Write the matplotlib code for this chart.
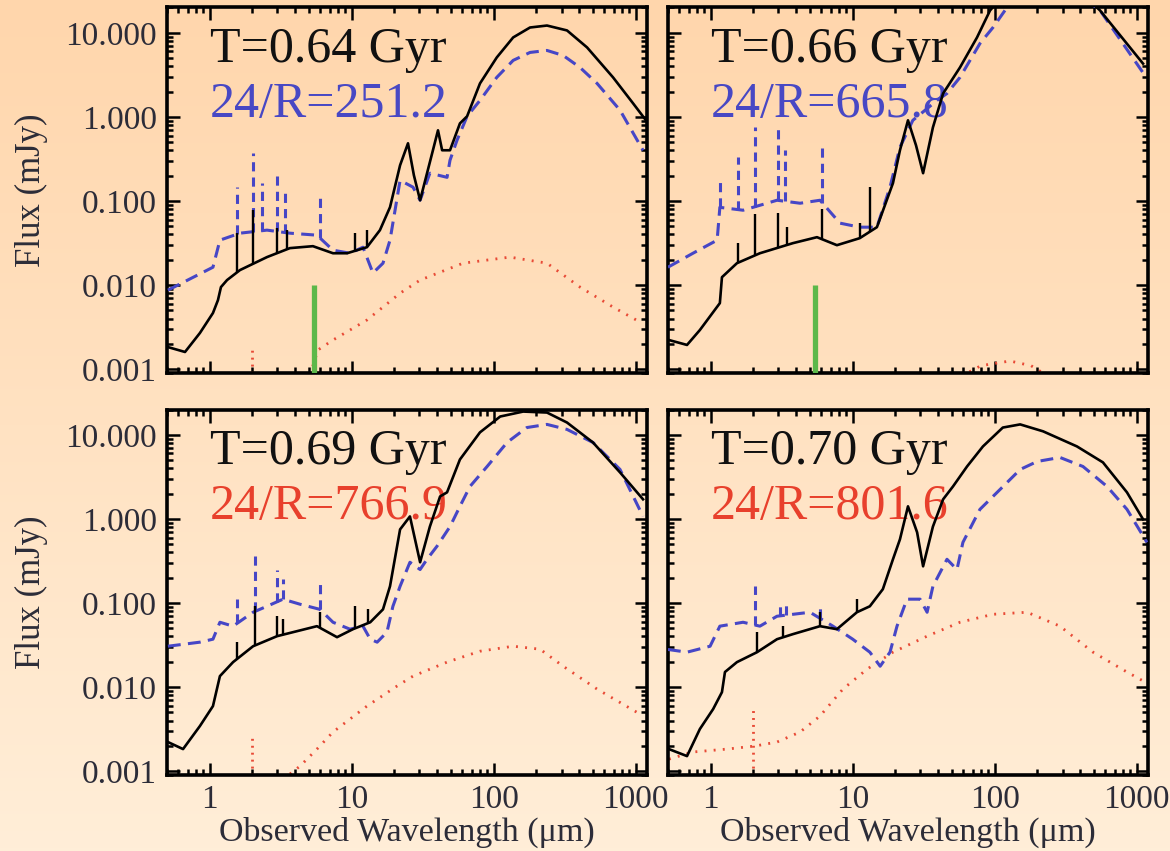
import numpy as np
import matplotlib.pyplot as plt
from matplotlib.ticker import FixedLocator, LogLocator, NullFormatter, FuncFormatter

plt.rcParams['font.family'] = ['Liberation Serif', 'DejaVu Serif']

# ---- T = 0.64 Gyr -------------------------------------------------------
solid_wl_064 = [0.508, 0.67, 0.853, 1.054, 1.143, 1.2, 1.324, 1.633, 2.53, 3.67, 5.33, 7.38,
                9.27, 12.8, 15.8, 18.6, 21.9, 24.9, 27.4, 30.3, 37.3, 40.5, 43.3, 49.2, 57.8,
                64.9, 80, 105, 137, 180, 237, 328, 454, 692, 957, 1180]
solid_fx_064 = [0.00183, 0.0016, 0.00269, 0.00465, 0.00662, 0.00946, 0.01146, 0.01507, 0.0215,
                0.0275, 0.029, 0.0239, 0.0239, 0.0282, 0.045, 0.0843, 0.266, 0.485, 0.202,
                0.102, 0.401, 0.692, 0.401, 0.401, 0.837, 1.016, 2.5, 5.09, 8.81, 11.56, 12.2,
                10.67, 6.7, 2.95, 1.45, 0.91]
solid_lines_wl_064 = [1.56, 2.02, 2.98, 3.50, 10.5, 12.8]
solid_lines_fx_064 = [0.0414, 0.0776, 0.0475, 0.045, 0.0414, 0.045]
dashed_wl_064 = [0.508, 1.054, 1.18, 1.633, 2.53, 3.67, 5.69, 7.38, 9.72, 12.0, 14.1, 16.6,
                 18.6, 21.9, 27.0, 30.3, 35.5, 46.9, 49.2, 55.1, 64.9, 80, 105, 137, 180, 237,
                 308, 405, 534, 775, 1125]
dashed_fx_064 = [0.0087, 0.0163, 0.0342, 0.0414, 0.045, 0.0414, 0.0392, 0.026, 0.0239, 0.0282,
                 0.0139, 0.0182, 0.0342, 0.176, 0.146, 0.102, 0.214, 0.191, 0.305, 0.526, 1.016,
                 1.57, 2.95, 4.7, 5.84, 6.17, 5.38, 3.87, 2.5, 1.2, 0.40]
dashed_lines_wl_064 = [1.56, 2.02, 2.33, 2.98, 3.39, 5.97]
dashed_lines_fx_064 = [0.146, 0.37, 0.163, 0.214, 0.124, 0.117]
dotted_wl_064 = [5.08, 5.78, 7.38, 12.8, 21.9, 30.3, 60.8, 130, 237, 405, 692, 1071]
dotted_fx_064 = [0.00085, 0.00169, 0.00222, 0.00384, 0.0080, 0.01146, 0.0182, 0.0215, 0.0182,
                 0.00946, 0.00547, 0.00363]
dotted_lines_wl_064 = [2.0]
dotted_lines_fx_064 = [0.0019]

# ---- T = 0.66 Gyr -------------------------------------------------------
solid_wl_066 = [0.508, 0.681, 0.839, 1.16, 1.2, 1.53, 2.22, 3.79, 5.6, 7.74, 11.2, 14.8, 19.2,
                21.5, 24.5, 27.9, 31.3, 36.7, 43.3, 56.9, 75, 92.6, 130, 180, 237, 330, 552, 1107]
solid_fx_066 = [0.00222, 0.00194, 0.00292, 0.0061, 0.0124, 0.0182, 0.0239, 0.0315, 0.0371,
                0.0298, 0.0361, 0.0488, 0.163, 0.40, 0.91, 0.459, 0.214, 0.75, 1.9, 3.87, 8.8,
                18.4, 36, 46, 50, 42, 18.4, 4.3]
solid_lines_wl_066 = [1.56, 2.05, 2.98, 3.44, 6.08, 11.2, 13.2]
solid_lines_fx_066 = [0.0315, 0.07, 0.0714, 0.0488, 0.08, 0.0545, 0.146]
dashed_wl_066 = [0.5, 0.75, 1.11, 1.16, 1.69, 2.93, 4.26, 5.88, 8.13, 11.2, 14.8, 18.3, 21.5,
                 26.5, 39.2, 46.1, 56.9, 78.7, 97.3, 122, 200, 330, 552, 1143]
dashed_fx_066 = [0.0163, 0.0239, 0.0342, 0.084, 0.0776, 0.102, 0.094, 0.102, 0.0545, 0.0488,
                 0.0488, 0.146, 0.435, 0.91, 1.57, 1.9, 2.95, 7.47, 11.6, 20, 38, 36, 18.4, 3.1]
dashed_lines_wl_066 = [1.16, 1.56, 2.05, 2.98, 3.33, 6.08]
dashed_lines_fx_066 = [0.167, 0.33, 0.75, 0.75, 0.40, 0.435]
dotted_wl_066 = [50, 64, 80, 128, 180, 219, 260]
dotted_fx_066 = [0.0008, 0.0009, 0.0011, 0.00125, 0.0011, 0.0009, 0.0007]
dotted_lines_wl_066 = []
dotted_lines_fx_066 = []

# ---- T = 0.69 Gyr -------------------------------------------------------
solid_wl_069 = [0.508, 0.649, 0.853, 1.054, 1.18, 1.46, 2.02, 2.98, 5.69, 7.88, 10.2, 13.5,
                16.6, 18.6, 21.9, 25.7, 30.3, 35.5, 41.9, 46.9, 57.8, 80, 111, 161, 237, 328,
                500, 775, 1125]
solid_fx_069 = [0.00222, 0.00183, 0.00344, 0.00594, 0.0135, 0.0198, 0.0306, 0.0403, 0.053,
                0.0392, 0.0488, 0.059, 0.084, 0.158, 0.75, 1.07, 0.305, 0.81, 1.85, 2.07, 5.09,
                10.7, 16.5, 18.9, 18.4, 14.0, 8.1, 3.57, 1.71]
solid_lines_wl_069 = [1.56, 2.08, 2.98, 3.28, 5.97, 10.5, 13.0]
solid_lines_fx_069 = [0.0342, 0.0914, 0.0696, 0.064, 0.0776, 0.0914, 0.084]
dashed_wl_069 = [0.508, 0.853, 1.054, 1.18, 1.46, 2.02, 2.53, 3.28, 4.33, 5.97, 7.38, 9.72,
                 12.0, 13.5, 15.1, 17.7, 19.5, 21.9, 25.7, 30.3, 33.9, 39.8, 49.2, 57.8, 68,
                 89.8, 124, 171, 237, 328, 500, 775, 1125]
dashed_fx_069 = [0.0306, 0.0342, 0.0371, 0.059, 0.053, 0.0776, 0.0914, 0.111, 0.0966, 0.084,
                 0.059, 0.0488, 0.053, 0.0371, 0.0342, 0.045, 0.0914, 0.158, 0.305, 0.25,
                 0.331, 0.472, 0.81, 1.41, 2.43, 4.2, 8.1, 12.2, 13.3, 11.6, 8.1, 3.87, 1.07]
dashed_lines_wl_069 = [1.56, 2.08, 2.98, 3.28, 5.97]
dashed_lines_fx_069 = [0.111, 0.40, 0.25, 0.191, 0.176]
dotted_wl_069 = [3.67, 4.33, 5.69, 7.38, 12.8, 20.8, 27.0, 46.9, 80, 137, 212, 308, 534, 1071]
dotted_fx_069 = [0.000925, 0.00115, 0.00183, 0.00292, 0.00594, 0.01026, 0.0135, 0.0198,
                 0.0267, 0.0306, 0.0282, 0.0177, 0.00946, 0.00477]
dotted_lines_wl_069 = [2.0]
dotted_lines_fx_069 = [0.00261]

# ---- T = 0.70 Gyr -------------------------------------------------------
solid_wl_070 = [0.508, 0.681, 0.839, 1.04, 1.2, 1.26, 1.53, 2.12, 2.93, 3.79, 5.88, 7.74,
                10.7, 13.2, 16.3, 19.2, 21.5, 24.5, 28.4, 31.3, 36.7, 43.3, 50.8, 63.8, 82.6,
                114, 151, 219, 379, 578, 853, 1107]
solid_fx_070 = [0.00183, 0.00151, 0.00317, 0.00547, 0.0087, 0.0151, 0.0198, 0.026, 0.0371,
                0.0426, 0.053, 0.0488, 0.0776, 0.0914, 0.146, 0.331, 0.571, 1.41, 0.692, 0.273,
                0.81, 1.71, 2.43, 4.2, 7.28, 12.2, 13.3, 11.0, 7.28, 4.7, 2.07, 0.99]
solid_lines_wl_070 = [2.12, 3.23, 5.88, 10.7]
solid_lines_fx_070 = [0.045, 0.053, 0.0776, 0.111]
dashed_wl_070 = [0.5, 0.681, 0.99, 1.16, 1.69, 2.22, 2.93, 5.0, 7.26, 10.0, 13.2, 15.6, 18.3,
                 20.5, 24.1, 29.8, 33.4, 36.7, 46.1, 54.2, 59.7, 78.7, 109, 151, 199, 288, 418,
                 618, 853, 1180]
dashed_fx_070 = [0.028, 0.026, 0.0306, 0.053, 0.059, 0.053, 0.0696, 0.0776, 0.053, 0.0371,
                 0.026, 0.0177, 0.026, 0.053, 0.111, 0.111, 0.0776, 0.158, 0.331, 0.25, 0.526,
                 1.30, 2.24, 3.87, 4.82, 5.38, 4.2, 2.43, 1.30, 0.526]
dashed_lines_wl_070 = [2.05, 3.1, 3.4, 5.9]
dashed_lines_fx_070 = [0.158, 0.10, 0.095, 0.09]
dotted_wl_070 = [0.508, 0.75, 1.30, 2.05, 2.93, 4.26, 5.88, 8.53, 12.6, 19.2, 33.4, 56.9, 97.3,
                 169, 288, 492, 853, 1143]
dotted_fx_070 = [0.00139, 0.00169, 0.00183, 0.00199, 0.00222, 0.00292, 0.00452, 0.00946,
                 0.0163, 0.026, 0.0403, 0.059, 0.0734, 0.0776, 0.053, 0.026, 0.0151, 0.0115]
dotted_lines_wl_070 = [2.0]
dotted_lines_fx_070 = [0.00594]

ages = ['T=0.64 Gyr', 'T=0.66 Gyr', 'T=0.69 Gyr', 'T=0.70 Gyr']
ratios = ['24/R=251.2', '24/R=665.8', '24/R=766.9', '24/R=801.6']
ratio_colors = ['#4848c4', '#4848c4', '#e8402c', '#e8402c']
band_wl = 5.4      # green marker, top row only
band_top = 0.01

XMIN, XMAX = 0.5, 1200
YMIN, YMAX = 0.0009, 20

BLUE = '#4646c6'
RED = '#e84a36'
GREEN = '#5cb84a'
LABEL = '#2c2c38'

panels = [
    (solid_wl_064, solid_fx_064, solid_lines_wl_064, solid_lines_fx_064,
     dashed_wl_064, dashed_fx_064, dashed_lines_wl_064, dashed_lines_fx_064,
     dotted_wl_064, dotted_fx_064, dotted_lines_wl_064, dotted_lines_fx_064),
    (solid_wl_066, solid_fx_066, solid_lines_wl_066, solid_lines_fx_066,
     dashed_wl_066, dashed_fx_066, dashed_lines_wl_066, dashed_lines_fx_066,
     dotted_wl_066, dotted_fx_066, dotted_lines_wl_066, dotted_lines_fx_066),
    (solid_wl_069, solid_fx_069, solid_lines_wl_069, solid_lines_fx_069,
     dashed_wl_069, dashed_fx_069, dashed_lines_wl_069, dashed_lines_fx_069,
     dotted_wl_069, dotted_fx_069, dotted_lines_wl_069, dotted_lines_fx_069),
    (solid_wl_070, solid_fx_070, solid_lines_wl_070, solid_lines_fx_070,
     dashed_wl_070, dashed_fx_070, dashed_lines_wl_070, dashed_lines_fx_070,
     dotted_wl_070, dotted_fx_070, dotted_lines_wl_070, dotted_lines_fx_070),
]


def continuum_at(wl, curve_wl, curve_fx):
    # log-log lookup of the continuum under an emission line
    return np.exp(np.interp(np.log(wl), np.log(curve_wl), np.log(curve_fx)))


def draw_panel(ax, data, age, ratio, ratio_color, show_band):
    (s_wl, s_fx, sl_wl, sl_fx, d_wl, d_fx, dl_wl, dl_fx,
     o_wl, o_fx, ol_wl, ol_fx) = data
    ax.set_facecolor('none')
    ax.set_xscale('log')
    ax.set_yscale('log')

    ax.plot(o_wl, o_fx, color=RED, lw=2.0, linestyle=(0, (0.7, 2.6)), zorder=2)
    if ol_wl:
        ax.vlines(ol_wl, YMIN, ol_fx, color=RED, lw=2.0, linestyles=[(0, (0.7, 1.8))], zorder=2)

    ax.plot(d_wl, d_fx, color=BLUE, lw=2.2, dashes=(4.2, 2.4), zorder=3)
    ax.vlines(dl_wl, continuum_at(dl_wl, d_wl, d_fx), dl_fx, color=BLUE, lw=2.2,
              linestyles=[(0, (3, 2))], zorder=3)

    ax.plot(s_wl, s_fx, color='black', lw=1.9, zorder=4)
    ax.vlines(sl_wl, continuum_at(sl_wl, s_wl, s_fx), sl_fx, color='black', lw=1.7, zorder=4)

    if show_band:
        ax.vlines(band_wl, YMIN, band_top, color=GREEN, lw=3.8, zorder=5)

    ax.text(0.09, 0.85, age, transform=ax.transAxes, fontsize=36, color='#111111',
            va='baseline', zorder=1)
    ax.text(0.09, 0.70, ratio, transform=ax.transAxes, fontsize=36, color=ratio_color,
            va='baseline', zorder=1)

    ax.set_xlim(XMIN, XMAX)
    ax.set_ylim(YMIN, YMAX)
    ax.xaxis.set_major_locator(FixedLocator([1, 10, 100, 1000]))
    ax.yaxis.set_major_locator(FixedLocator([0.001, 0.01, 0.1, 1, 10]))
    ax.xaxis.set_minor_locator(LogLocator(base=10, subs=np.arange(2, 10), numticks=20))
    ax.yaxis.set_minor_locator(LogLocator(base=10, subs=np.arange(2, 10), numticks=20))
    ax.xaxis.set_minor_formatter(NullFormatter())
    ax.yaxis.set_minor_formatter(NullFormatter())
    ax.xaxis.set_major_formatter(FuncFormatter(lambda v, p: f'{v:g}'))
    ax.yaxis.set_major_formatter(FuncFormatter(lambda v, p: f'{v:.3f}'))
    ax.tick_params(which='both', direction='in', top=True, right=True, width=1.8,
                   labelsize=24, labelcolor=LABEL)
    ax.tick_params(which='major', length=9, pad=7)
    ax.tick_params(which='minor', length=4.5)
    for sp in ax.spines.values():
        sp.set_linewidth(2.6)


fig = plt.figure(figsize=(11.7, 8.51), dpi=100)

# warm vertical gradient behind everything
bg = fig.add_axes([0, 0, 1, 1], zorder=-10)
top_c = np.array([255, 214, 172]) / 255
bot_c = np.array([255, 238, 216]) / 255
t = np.linspace(0, 1, 256)[:, None]
grad = top_c[None, :] + (bot_c - top_c)[None, :] * t
bg.imshow(grad[:, None, :], aspect='auto', extent=[0, 1, 0, 1])
bg.axis('off')

w, h = 0.4103, 0.4295
positions = [(0.1427, 0.5617), (0.5709, 0.5617), (0.1427, 0.0893), (0.5709, 0.0893)]

for i, (x0, y0) in enumerate(positions):
    ax = fig.add_axes([x0, y0, w, h])
    draw_panel(ax, panels[i], ages[i], ratios[i], ratio_colors[i], show_band=(i < 2))
    if i < 2:
        ax.tick_params(labelbottom=False)
    else:
        ax.set_xlabel('Observed Wavelength (μm)', fontsize=24.5, color=LABEL, labelpad=1)
    if i % 2 == 1:
        ax.tick_params(labelleft=False)
    else:
        ax.set_ylabel('Flux (mJy)', fontsize=25, color=LABEL, labelpad=13)

fig.savefig('out.png', dpi=100)
